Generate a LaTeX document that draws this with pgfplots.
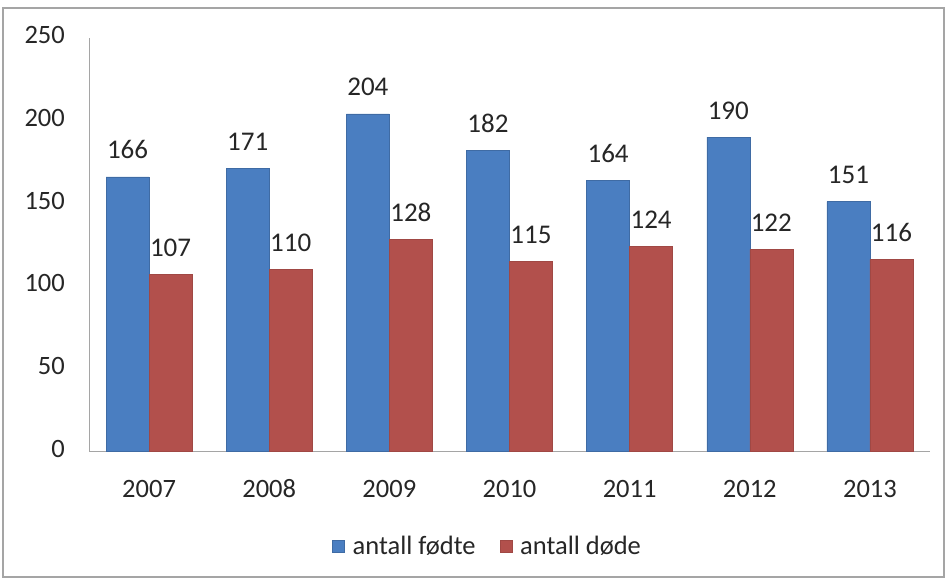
\documentclass[border=0pt]{standalone}
\usepackage{pgfplots}
\pgfplotsset{compat=1.18}
\usepackage{fontspec}
\setmainfont{Carlito}
\definecolor{cblue}{RGB}{74,126,193}
\definecolor{cred}{RGB}{178,80,76}
\definecolor{axgray}{RGB}{165,165,165}
\begin{document}
\begin{tikzpicture}[x=1pt,y=1pt]
\path[use as bounding box] (0,0) rectangle (947,581);
\draw[axgray, line width=1.2pt] (3,4) rectangle (944,573);
\begin{axis}[
  at={(89pt,130pt)}, anchor=south west,
  width=841pt, height=413pt, scale only axis,
  ymin=0, ymax=250, xmin=-0.5, xmax=6.5,
  ybar=0pt, bar width=43pt,
  axis x line*=bottom, axis y line*=left,
  axis line style={axgray, line width=1pt},
  major tick length=0pt,
  xtick={0,...,6},
  xticklabels={2007,2008,2009,2010,2011,2012,2013},
  ytick={0,50,100,150,200,250},
  /pgf/number format/assume math mode=true,
  tick label style={font=\fontsize{26.5}{30}\selectfont, text=black!85},
  yticklabel style={anchor=east, inner sep=0pt, xshift=-24pt},
  typeset ticklabels with strut,
  xticklabel style={anchor=base, inner sep=0pt, yshift=-46pt},
  nodes near coords,
  every node near coord/.append style={font=\fontsize{27}{30}\selectfont, text=black!85, anchor=base, inner sep=0pt, yshift=18pt},
  legend columns=2,
  legend style={at={(axis description cs:0.474,0)}, anchor=center, yshift=-95pt, draw=none, fill=none,
    font=\fontsize{26.5}{30}\selectfont, text=black!85,
    /tikz/every odd column/.append style={column sep=6pt},
    /tikz/every even column/.append style={column sep=22pt}},
  legend image code/.code={\fill[#1] (0pt,-6pt) rectangle (12pt,6pt);},
]
\addplot[fill=cblue, draw=cblue!85!black] coordinates {(0,166) (1,171) (2,204) (3,182) (4,164) (5,190) (6,151)};
\addplot[fill=cred, draw=cred!90!black] coordinates {(0,107) (1,110) (2,128) (3,115) (4,124) (5,122) (6,116)};
\legend{antall fødte, antall døde}
\end{axis}
\end{tikzpicture}
\end{document}
